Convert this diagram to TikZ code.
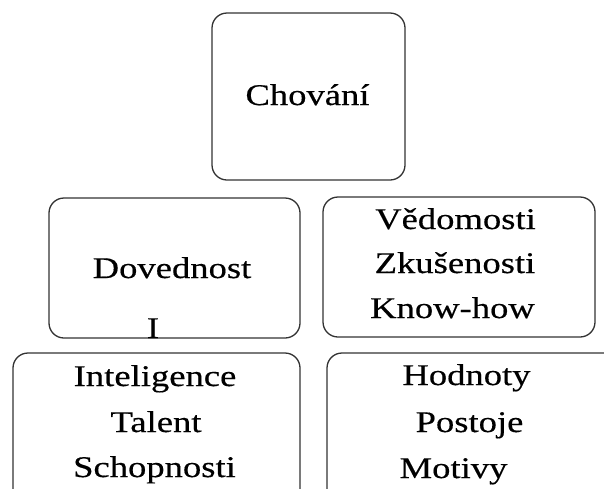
\documentclass[tikz,border=0pt]{standalone}
\usepackage{fontspec}
\setmainfont[FakeStretch=1.22,FakeBold=0.4]{Liberation Serif}
\begin{document}
\begin{tikzpicture}[x=1pt,y=-1pt,
  box/.style={draw=black!80,line width=1.3pt,rounded corners=15pt,minimum width=#1},
  lbl/.style={inner sep=0pt,anchor=base,font=\fontsize{30}{45}\selectfont}]
\useasboundingbox (0,0) rectangle (604,488);
\clip (0,0) rectangle (604,488);
% boxes
\node[box=193pt,minimum height=167pt] (chov) at (308.5,96.5) {};
\node[box=251pt,minimum height=140pt] (dov) at (174.5,268) {};
\node[box=272pt,minimum height=140pt] (ved) at (459,267) {};
\node[box=287pt,minimum height=167pt] (int) at (156.5,436.5) {};
\node[box=313pt,minimum height=167pt] (hod) at (483.5,436.5) {};
% texts
\node[lbl] (tchov) at (307.5,105) {Chování};
\node[lbl] (tdov) at (172,278) {Dovednost};
\node[lbl] (tcur) at (153,338) {I};
\node[lbl] (tved1) at (455.5,229) {Vědomosti};
\node[lbl] (tved2) at (455,273) {Zkušenosti};
\node[lbl] (tved3) at (452.5,318) {Know-how};
\node[lbl] (tint1) at (155,386) {Inteligence};
\node[lbl] (tint2) at (156,432) {Talent};
\node[lbl] (tint3) at (154.5,477) {Schopnosti};
\node[lbl] (thod1) at (466.5,385) {Hodnoty};
\node[lbl] (thod2) at (469.5,432) {Postoje};
\node[lbl] (thod3) at (453.5,478) {Motivy};
\end{tikzpicture}
\end{document}
